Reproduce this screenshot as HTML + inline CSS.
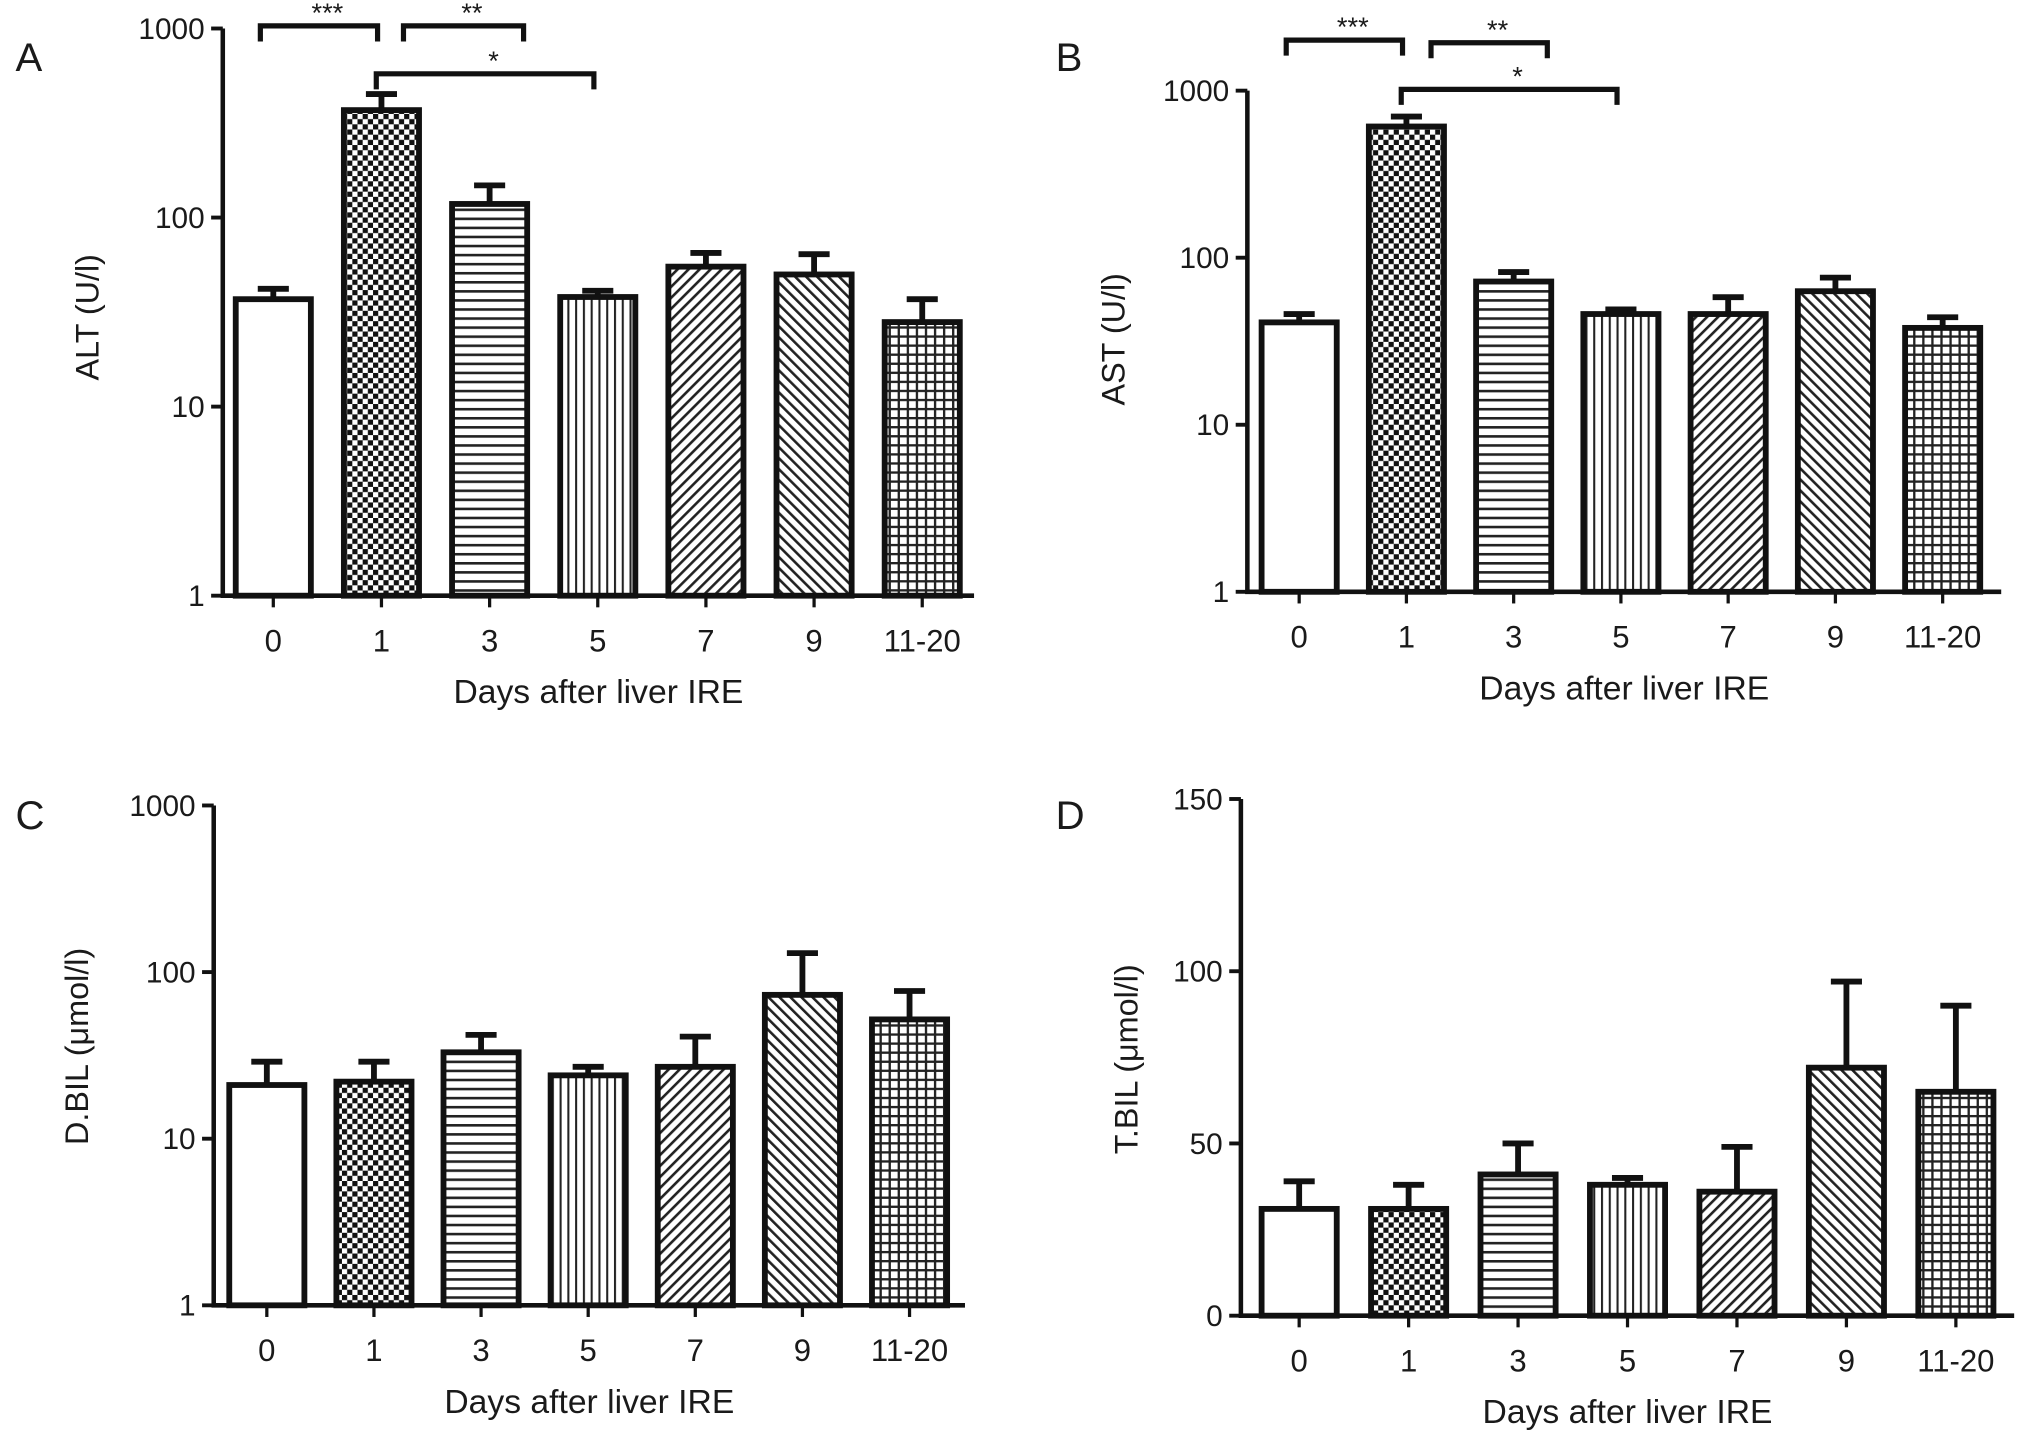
<!DOCTYPE html>
<html><head><meta charset="utf-8"><style>
html,body{margin:0;padding:0;background:#fff;}
svg{display:block;}
text{font-family:"Liberation Sans",Arial,sans-serif;fill:#1a1a1a;}
</style></head><body>
<svg id="fig" width="2031" height="1440" viewBox="0 0 1568 1112" preserveAspectRatio="none" xmlns="http://www.w3.org/2000/svg">
<defs>
<pattern id="p-check" patternUnits="userSpaceOnUse" width="8" height="8"><rect width="8" height="8" fill="#fff"/><rect width="4" height="4" fill="#111"/><rect x="4" y="4" width="4" height="4" fill="#111"/></pattern>
<pattern id="p-hline" patternUnits="userSpaceOnUse" width="8" height="7"><rect width="8" height="7" fill="#fff"/><rect y="0" width="8" height="2" fill="#222"/></pattern>
<pattern id="p-vline" patternUnits="userSpaceOnUse" width="6" height="8"><rect width="6" height="8" fill="#fff"/><rect x="0" width="1.6" height="8" fill="#222"/></pattern>
<pattern id="p-diag" patternUnits="userSpaceOnUse" width="6" height="6" patternTransform="rotate(45)"><rect width="6" height="6" fill="#fff"/><rect width="2" height="6" fill="#222"/></pattern>
<pattern id="p-diag2" patternUnits="userSpaceOnUse" width="6" height="6" patternTransform="rotate(-45)"><rect width="6" height="6" fill="#fff"/><rect width="2" height="6" fill="#222"/></pattern>
<pattern id="p-grid" patternUnits="userSpaceOnUse" width="7" height="7"><rect width="7" height="7" fill="#fff"/><rect width="7" height="1.8" fill="#222"/><rect width="1.8" height="7" fill="#222"/></pattern>
</defs>
</svg>
<script>
// ---- data ----
const categories = ["0","1","3","5","7","9","11-20"];
const altValues = [37,370,118,38,55,50,28];
const altErrors = [42,450,148,41,65,64,37];
const astValues = [41,610,72,46,46,63,38];
const astErrors = [46,700,82,49,58,76,44];
const dbilValues = [21,22,33,24,27,73,52];
const dbilErrors = [29,29,42,27,41,130,77];
const tbilValues = [31,31,41,38,36,72,65];
const tbilErrors = [39,38,50,40,49,97,90];
const logTicks = [1,10,100,1000];
const linTicks = [0,50,100,150];

const fills = ["#fff","url(#p-check)","url(#p-hline)","url(#p-vline)","url(#p-diag)","url(#p-diag2)","url(#p-grid)"];
const NS = "http://www.w3.org/2000/svg";
const svg = document.getElementById('fig');
function el(tag, attrs, parent){const e=document.createElementNS(NS,tag);for(const k in attrs)e.setAttribute(k,attrs[k]);(parent||svg).appendChild(e);return e;}

function panel(cfg){
  const g = el('g',{});
  
  
  const y = cfg.log
    ? v => cfg.y0 - (Math.log10(v))/(3)*(cfg.y0-cfg.yTop)
    : v => cfg.y0 - v/150*(cfg.y0-cfg.yTop);
  const xAt = i => cfg.c0 + i*cfg.step;
  const bw = 58;
  const L = el('text',{x:cfg.lx,y:cfg.ly,'font-size':31},g); L.textContent=cfg.letter;
  
  
  categories.forEach((c,i)=>{
    const cx=xAt(i), v=cfg.vals[i], e=cfg.errs[i];
    const eb = el('path',{d:`M${cx},${y(v)} V${y(e)} M${cx-12},${y(e)} H${cx+12}`,stroke:'#111','stroke-width':4.5,fill:'none'},g);
    
    
    const r = el('rect',{x:cx-bw/2,y:y(v),width:bw,height:cfg.y0-y(v),fill:fills[i],stroke:'#111','stroke-width':4.5},g);
    
    
    const tk = el('line',{x1:cx,x2:cx,y1:cfg.y0,y2:cfg.y0+9,stroke:'#111','stroke-width':2.5},g);
    
    
    const t = el('text',{x:cx,y:cfg.y0+43,'font-size':24,'text-anchor':'middle'},g); t.textContent=c;
    
    
  });
  const ax = el('path',{d:`M${cfg.ax},${cfg.yTop} V${cfg.y0} H${cfg.xEnd}`,stroke:'#111','stroke-width':3.5,fill:'none'},g);
  
  
  (cfg.log?logTicks:linTicks).forEach(tv=>{
    const ty=y(tv);
    const tl = el('line',{x1:cfg.ax-9,x2:cfg.ax,y1:ty,y2:ty,stroke:'#111','stroke-width':3},g);
    
    
    const t = el('text',{x:cfg.ax-14,y:ty+8,'font-size':23,'text-anchor':'end'},g); t.textContent=tv;
    
    
  });
  const xt = el('text',{x:(cfg.ax+cfg.xEnd)/2,y:cfg.y0+83,'font-size':26,'text-anchor':'middle'},g); xt.textContent='Days after liver IRE';
  
  
  const yt = el('text',{x:0,y:0,'font-size':25,'text-anchor':'middle',transform:`translate(${cfg.ytx},${cfg.yty}) rotate(-90)`},g); yt.textContent=cfg.ytitle;
  
  
  (cfg.brackets||[]).forEach(b=>{
    const bp = el('path',{d:`M${xAt(b[0])-10+b[3]},${b[2]+12} V${b[2]} H${xAt(b[1])-3+b[4]} V${b[2]+12}`,stroke:'#111','stroke-width':4,fill:'none'},g);
    
    
    const st = el('text',{x:(xAt(b[0])+xAt(b[1]))/2+b[3]/2,y:b[2]-3,'font-size':21,'text-anchor':'middle'},g); st.textContent=b[5];
    
    
  });
}
panel({letter:'A',lx:12,ly:55,log:true,ax:172,y0:460,yTop:22,xEnd:752,c0:211,step:83.5,vals:altValues,errs:altErrors,ytitle:'ALT (U/l)',ytx:76,yty:245,
  brackets:[[0,1,20,0,0,'***'],[1,2.35,20,27,0,'**'],[1,3,57,6,0,'*']]});
panel({letter:'B',lx:815,ly:55,log:true,ax:963,y0:457,yTop:70,xEnd:1545,c0:1003,step:82.8,vals:astValues,errs:astErrors,ytitle:'AST (U/l)',ytx:868,yty:262,
  brackets:[[0,1,31,0,0,'***'],[1,2.35,33,29,0,'**'],[1,3,69,6,0,'*']]});
panel({letter:'C',lx:12,ly:640,log:true,ax:165,y0:1008,yTop:622,xEnd:745,c0:206,step:82.7,vals:dbilValues,errs:dbilErrors,ytitle:'D.BIL (μmol/l)',ytx:68,yty:808});
panel({letter:'D',lx:815,ly:640,log:false,ax:958,y0:1016,yTop:617,xEnd:1555,c0:1003,step:84.5,vals:tbilValues,errs:tbilErrors,ytitle:'T.BIL (μmol/l)',ytx:878,yty:818});
</script>
</body></html>
